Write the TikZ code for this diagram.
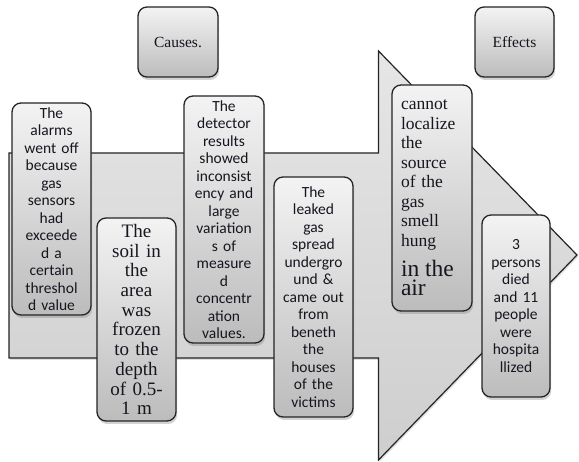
\documentclass[tikz,border=0pt]{standalone}
\usepackage{fontspec}
\setmainfont{Liberation Serif}
\newfontfamily\calib{Carlito}
\newfontfamily\tms{Liberation Serif}
\usetikzlibrary{shadows}
\definecolor{boxtop}{RGB}{243,243,243}
\definecolor{boxbot}{RGB}{188,188,188}
\definecolor{edge}{RGB}{36,36,36}
\definecolor{arrtop}{RGB}{230,230,230}
\definecolor{arrbot}{RGB}{206,206,206}
\definecolor{txt}{RGB}{25,20,30}
\begin{document}
\begin{tikzpicture}[x=1pt,y=-1pt,
  card/.style={draw=edge, line width=1.3pt, rounded corners=9pt,
    top color=boxtop, bottom color=boxbot, inner sep=0pt, align=center,
    text=txt,
    drop shadow={shadow xshift=1.2pt, shadow yshift=-3pt, opacity=0.35}},
  sanscard/.style={card, font=\calib\fontsize{15.5}{17.5}\selectfont},
  serifcard/.style={card, font=\tms\fontsize{19}{19.7}\selectfont},
  titlecard/.style={card, font=\tms\fontsize{15.5}{18}\selectfont}
]
\useasboundingbox (0,0) rectangle (579,462);

% big arrow
\path[draw=edge, line width=1.2pt, top color=arrtop, bottom color=arrbot,
  drop shadow={shadow xshift=1pt, shadow yshift=-2pt, opacity=0.25}]
  (9,153) -- (378.5,153) -- (378.5,51) -- (577,255) -- (378.5,460)
  -- (378.5,358) -- (9,358) -- cycle;

% headings
\node[titlecard, minimum width=80pt, minimum height=70pt] (causes) at (178,42) {Causes.};
\node[titlecard, minimum width=79pt, minimum height=70pt] (effects) at (514.5,42) {Effects};

% causes
\node[sanscard, text width=76pt, minimum width=79pt, minimum height=212pt] (alarms) at (51.5,209)
  {The\\alarms\\went off\\because\\gas\\sensors\\had\\exceede\\d a\\certain\\threshol\\d value};
\node[serifcard, text width=76pt, minimum width=79pt, minimum height=203pt] (soil) at (136.5,319.5)
  {The\\soil in\\the\\area\\was\\frozen\\to the\\depth\\of 0.5-\\1 m};
\node[sanscard, text width=77pt, minimum width=80pt, minimum height=247pt] (detector) at (224,219.5)
  {The\\detector\\results\\showed\\inconsist\\ency and\\large\\variation\\s of\\measure\\d\\concentr\\ation\\values.};
\node[sanscard, text width=76pt, minimum width=79pt, minimum height=240pt] (leaked) at (313.5,297)
  {The\\leaked\\gas\\spread\\undergro\\und \&\\came out\\from\\beneth\\the\\houses\\of the\\victims};

% effects
\node[card, align=left, text width=62pt, minimum width=80pt, minimum height=226pt,
  font=\tms\fontsize{17.5}{19.5}\selectfont] (source) at (432,198)
  {cannot\\localize\\the\\source\\of the\\gas\\smell\\hung\par
   \fontsize{23.5}{30}\selectfont in the\\air};
\node[sanscard, text width=66pt, minimum width=68pt, minimum height=182pt] (died) at (516,306)
  {3\\persons\\died\\and 11\\people\\were\\hospita\\llized};
\end{tikzpicture}
\end{document}
